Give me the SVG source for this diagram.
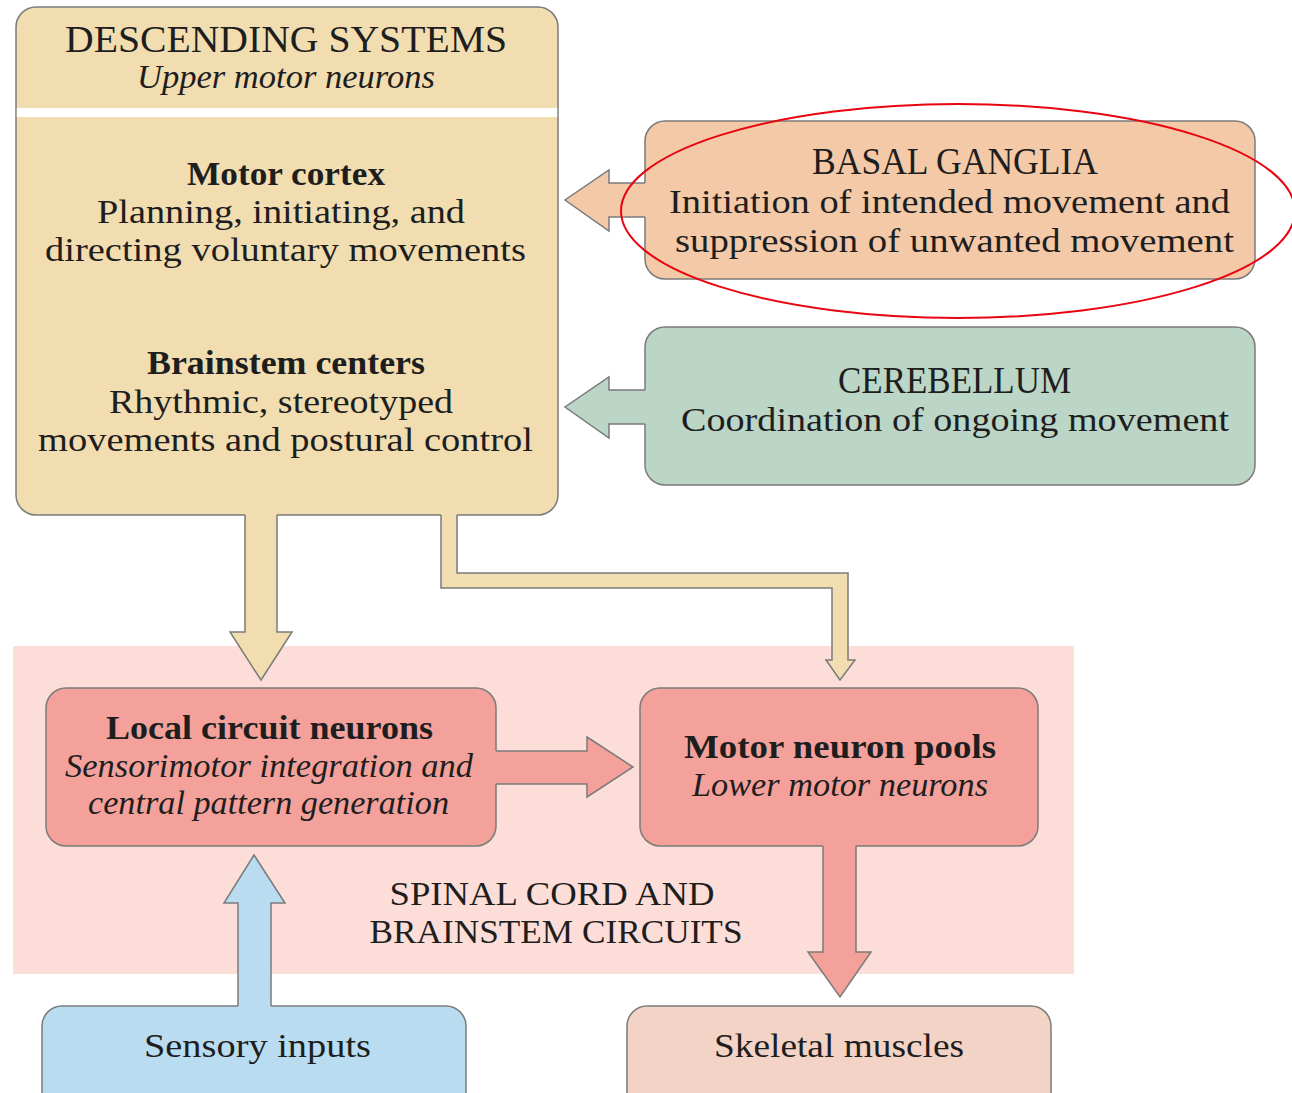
<svg xmlns="http://www.w3.org/2000/svg" width="1292" height="1093" viewBox="0 0 1292 1093">
  <defs>
    <style>
      .box { stroke: #7b7b7b; stroke-width: 1.5; }
      .edge { fill: none; stroke: #7b7b7b; stroke-width: 1.5; stroke-linejoin: miter; }
      .t { font-family: "Liberation Serif", "Times New Roman", serif; fill: #1e1e1e; text-anchor: middle; }
      .cap { font-size: 37px; }
      .body { font-size: 34px; }
      .b { font-weight: bold; }
      .i { font-style: italic; }
      .tan { fill: #f1ddb0; }
      .peach { fill: #f3c9a8; }
      .green { fill: #bbd6c6; }
      .rose { fill: #f4a19b; }
      .blue { fill: #b9dcf1; }
      .skin { fill: #f2d3c5; }
    </style>
  </defs>

  <rect width="1292" height="1093" fill="#ffffff"/>

  <!-- spinal cord / brainstem panel -->
  <g id="spinal-panel">
    <rect x="13" y="646" width="1061" height="328" fill="#fcddd8"/>
    <text class="t body" x="552" y="905" textLength="325" lengthAdjust="spacingAndGlyphs">SPINAL CORD AND</text>
    <text class="t body" x="556" y="943" textLength="373" lengthAdjust="spacingAndGlyphs">BRAINSTEM CIRCUITS</text>
  </g>

  <!-- descending systems -->
  <g id="descending">
    <rect class="box tan" x="16" y="7" width="542" height="508" rx="20"/>
    <rect x="16.8" y="108" width="540.4" height="9" fill="#ffffff"/>
    <text class="t cap" x="286" y="52" textLength="442" lengthAdjust="spacingAndGlyphs">DESCENDING SYSTEMS</text>
    <text class="t body i" x="286" y="88" textLength="298" lengthAdjust="spacingAndGlyphs">Upper motor neurons</text>
    <text class="t body b" x="286" y="185" textLength="198" lengthAdjust="spacingAndGlyphs">Motor cortex</text>
    <text class="t body" x="281" y="223" textLength="368" lengthAdjust="spacingAndGlyphs">Planning, initiating, and</text>
    <text class="t body" x="285.5" y="261" textLength="481" lengthAdjust="spacingAndGlyphs">directing voluntary movements</text>
    <text class="t body b" x="286" y="374" textLength="278" lengthAdjust="spacingAndGlyphs">Brainstem centers</text>
    <text class="t body" x="281" y="413" textLength="344" lengthAdjust="spacingAndGlyphs">Rhythmic, stereotyped</text>
    <text class="t body" x="285.5" y="451" textLength="495" lengthAdjust="spacingAndGlyphs">movements and postural control</text>
  </g>

  <!-- basal ganglia -->
  <g id="basal-ganglia">
    <rect class="box peach" x="645" y="121" width="610" height="158" rx="20"/>
    <text class="t cap" x="955" y="174" textLength="286" lengthAdjust="spacingAndGlyphs">BASAL GANGLIA</text>
    <text class="t body" x="949.5" y="213" textLength="561" lengthAdjust="spacingAndGlyphs">Initiation of intended movement and</text>
    <text class="t body" x="954.5" y="252" textLength="559" lengthAdjust="spacingAndGlyphs">suppression of unwanted movement</text>
  </g>

  <!-- cerebellum -->
  <g id="cerebellum">
    <rect class="box green" x="645" y="327" width="610" height="158" rx="20"/>
    <text class="t cap" x="954.5" y="393" textLength="233" lengthAdjust="spacingAndGlyphs">CEREBELLUM</text>
    <text class="t body" x="955" y="431" textLength="548" lengthAdjust="spacingAndGlyphs">Coordination of ongoing movement</text>
  </g>

  <!-- local circuit neurons -->
  <g id="local-circuit">
    <rect class="box rose" x="46" y="688" width="450" height="158" rx="20"/>
    <text class="t body b" x="269.5" y="739" textLength="327" lengthAdjust="spacingAndGlyphs">Local circuit neurons</text>
    <text class="t body i" x="269" y="777" textLength="408" lengthAdjust="spacingAndGlyphs">Sensorimotor integration and</text>
    <text class="t body i" x="268.5" y="814" textLength="361" lengthAdjust="spacingAndGlyphs">central pattern generation</text>
  </g>

  <!-- motor neuron pools -->
  <g id="motor-pools">
    <rect class="box rose" x="640" y="688" width="398" height="158" rx="20"/>
    <text class="t body b" x="840" y="758" textLength="312" lengthAdjust="spacingAndGlyphs">Motor neuron pools</text>
    <text class="t body i" x="840" y="796" textLength="296" lengthAdjust="spacingAndGlyphs">Lower motor neurons</text>
  </g>

  <!-- sensory inputs -->
  <g id="sensory-inputs">
    <rect class="box blue" x="42" y="1006" width="424" height="110" rx="20"/>
    <text class="t body" x="257.5" y="1057" textLength="227" lengthAdjust="spacingAndGlyphs">Sensory inputs</text>
  </g>

  <!-- skeletal muscles -->
  <g id="skeletal-muscles">
    <rect class="box skin" x="627" y="1006" width="424" height="110" rx="20"/>
    <text class="t body" x="839" y="1057" textLength="250" lengthAdjust="spacingAndGlyphs">Skeletal muscles</text>
  </g>

  <!-- block arrows: fill merges into the source box, outline left open there -->
  <g id="connectors">
    <!-- basal ganglia to descending systems -->
    <path class="peach" d="M647,183 H609 V170 L565,200 L609,231 V217 H647 Z"/>
    <path class="edge" d="M645,183 H609 V170 L565,200 L609,231 V217 H645"/>

    <!-- cerebellum to descending systems -->
    <path class="green" d="M647,390 H609 V377 L565,407 L609,438 V424 H647 Z"/>
    <path class="edge" d="M645,390 H609 V377 L565,407 L609,438 V424 H645"/>

    <!-- descending systems to local circuit neurons -->
    <path class="tan" d="M245,513 V632 H230 L261,680 L292,632 H277 V513 Z"/>
    <path class="edge" d="M245,515 V632 H230 L261,680 L292,632 H277 V515"/>

    <!-- descending systems to motor neuron pools -->
    <path class="tan" d="M441,513 V588 H832 V660 H826 L840,680 L855,660 H848 V573 H457 V513 Z"/>
    <path class="edge" d="M441,515 V588 H832 V660 H826 L840,680 L855,660 H848 V573 H457 V515"/>

    <!-- local circuit neurons to motor neuron pools -->
    <path class="rose" d="M494,751 H587 V737 L633,767 L587,797 V784 H494 Z"/>
    <path class="edge" d="M496,751 H587 V737 L633,767 L587,797 V784 H496"/>

    <!-- motor neuron pools to skeletal muscles -->
    <path class="rose" d="M823,844 V952 H808 L840,997 L871,952 H856 V844 Z"/>
    <path class="edge" d="M823,846 V952 H808 L840,997 L871,952 H856 V846"/>

    <!-- sensory inputs to local circuit neurons -->
    <path class="blue" d="M238,1008 V903 H224 L254,855 L285,903 H271 V1008 Z"/>
    <path class="edge" d="M238,1006 V903 H224 L254,855 L285,903 H271 V1006"/>
  </g>

  <!-- highlight ring around basal ganglia -->
  <ellipse cx="958" cy="211" rx="337" ry="107" fill="none" stroke="#e8050f" stroke-width="2"/>
</svg>
